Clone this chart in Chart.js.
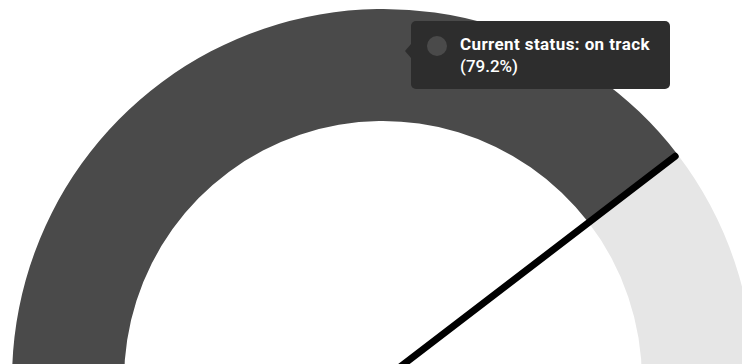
<!DOCTYPE html>
<html>
<head>
<meta charset="utf-8">
<script src="https://cdn.jsdelivr.net/npm/chart.js@4.4.1/dist/chart.umd.min.js"></script>
<style>
  html, body { margin: 0; padding: 0; background: #fff; overflow: hidden; width: 742px; height: 364px; }
  #wrap { position: absolute; left: 12px; top: 9px; width: 742px; height: 371px; }
  #gauge { display: block; }
  #tip {
    position: absolute; width: 259px; height: 68px; background: #2d2d2d; border-radius: 5px;
    color: #fff; font-family: Roboto, sans-serif; font-size: 17px; opacity: 0; pointer-events: none;
  }
  #tip::before {
    content: ""; position: absolute; left: -6px; top: 23px;
    border-top: 7px solid transparent; border-bottom: 7px solid transparent; border-right: 6px solid #2d2d2d;
  }
  #tip .dot { position: absolute; left: 16px; top: 15px; width: 20px; height: 20px; border-radius: 50%; }
  #tip .txt { position: absolute; left: 49px; top: 11.6px; line-height: 22px; white-space: nowrap; }
  #tip .txt b { font-weight: 700; display: block; letter-spacing: 0.4px; }
  #tip .txt span { font-weight: 500; display: block; }
</style>
</head>
<body>
<div id="wrap">
  <canvas id="gauge" width="742" height="371"></canvas>
  <div id="tip"><div class="dot"></div><div class="txt"><b></b><span></span></div></div>
</div>
<script>
// status share vs. the rest of the scale
const categories = ["on track", "remaining"];
const values = [79.2, 20.8];
const segColors = ["#4a4a4a", "#e6e6e6"];

// where the pointer sits over the gauge (canvas px)
const hoverPoint = { x: 393, y: 42 };

const tipEl = document.getElementById("tip");

// custom positioner: tooltip follows the pointer
Chart.Tooltip.positioners.cursor = (items, eventPosition) => eventPosition;

const externalTip = ({ tooltip }) => {
  if (!tooltip.opacity || !tooltip.dataPoints || !tooltip.dataPoints.length) {
    tipEl.style.opacity = 0;
    return;
  }
  const dp = tooltip.dataPoints[0];
  tipEl.querySelector(".dot").style.background = segColors[dp.dataIndex];
  tipEl.querySelector("b").textContent = `Current status: ${dp.label}`;
  tipEl.querySelector("span").textContent = `(${dp.raw}%)`;
  tipEl.style.left = tooltip.caretX + 6 + "px";
  tipEl.style.top = tooltip.caretY - 30 + "px";
  tipEl.style.opacity = 1;
};

// needle along the boundary of the first segment
const needle = {
  id: "needle",
  afterDatasetsDraw(chart) {
    const arc = chart.getDatasetMeta(0).data[0];
    if (!arc) return;
    const { x, y, endAngle, outerRadius } = arc.getProps(["x", "y", "endAngle", "outerRadius"], true);
    const len = outerRadius - 3;
    const ctx = chart.ctx;
    ctx.save();
    ctx.strokeStyle = "#000";
    ctx.lineWidth = 7;
    ctx.lineCap = "round";
    ctx.beginPath();
    ctx.moveTo(x, y);
    ctx.lineTo(x + Math.cos(endAngle) * len, y + Math.sin(endAngle) * len);
    ctx.stroke();
    ctx.restore();
  },
};

const chart = new Chart(document.getElementById("gauge"), {
  type: "doughnut",
  plugins: [needle],
  data: {
    labels: categories,
    datasets: [{
      data: values,
      backgroundColor: segColors,
      hoverBackgroundColor: segColors,
      borderWidth: 0,
      hoverOffset: 0,
    }],
  },
  options: {
    responsive: false,
    animation: false,
    rotation: -90,
    circumference: 180,
    cutout: "69.8%",
    layout: { padding: 0 },
    events: [],
    plugins: {
      legend: { display: false },
      tooltip: {
        enabled: false,
        animation: false,
        position: "cursor",
        external: externalTip,
      },
    },
  },
});

chart.tooltip.setActiveElements([{ datasetIndex: 0, index: 0 }], hoverPoint);
</script>
</body>
</html>
